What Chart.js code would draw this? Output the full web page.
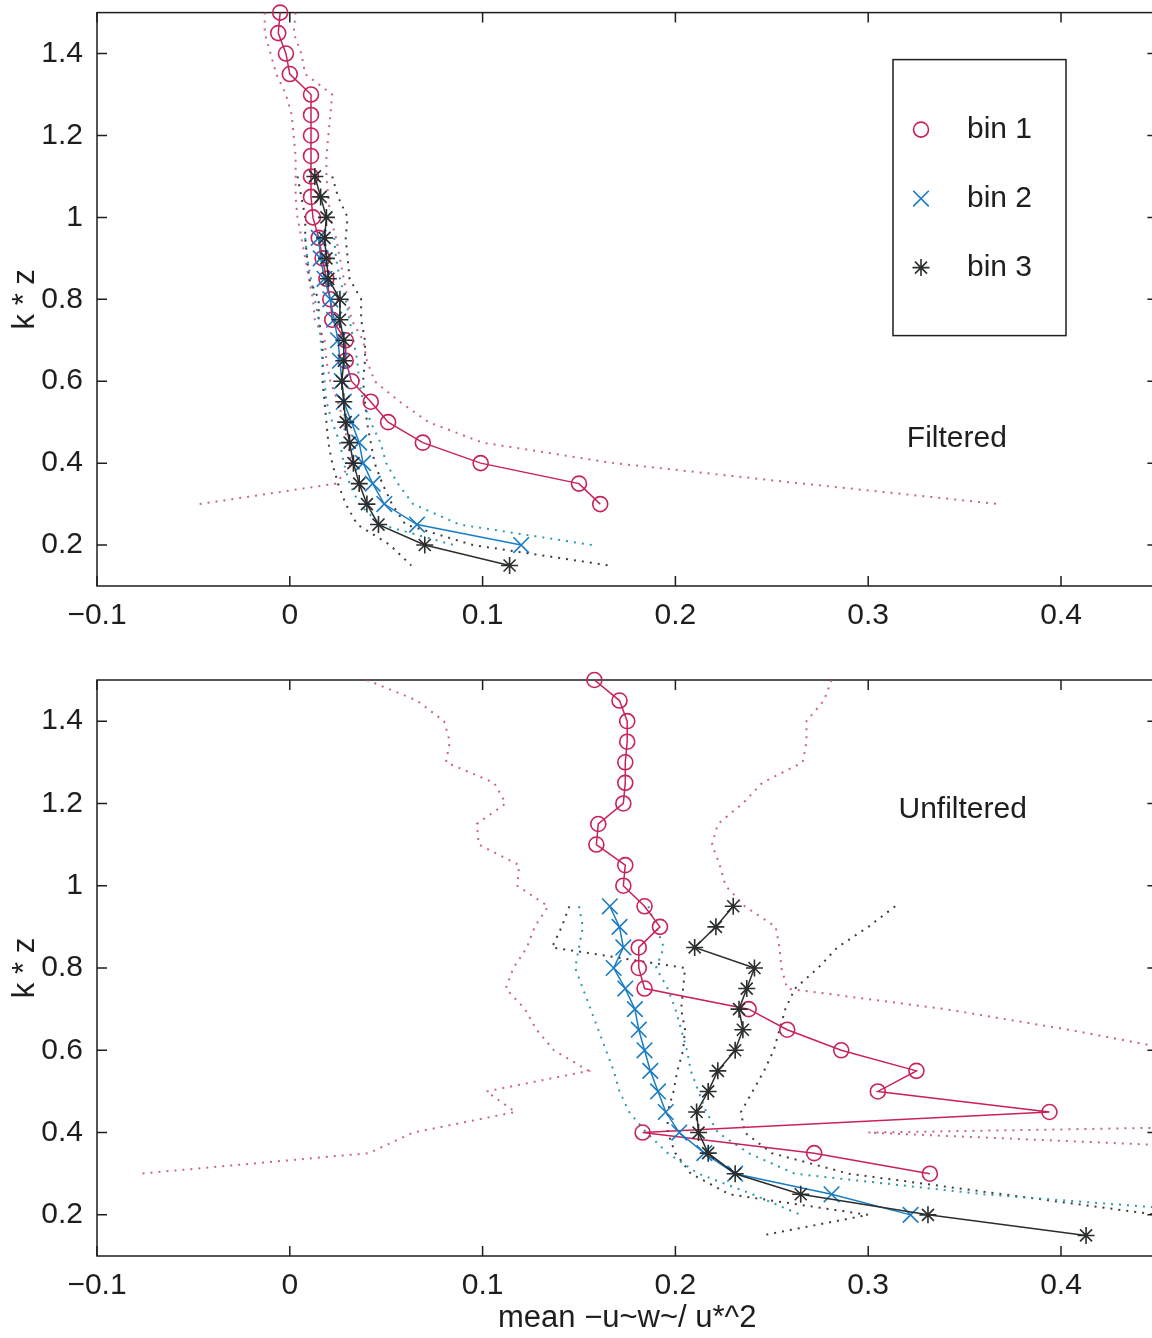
<!DOCTYPE html>
<html>
<head>
<meta charset="utf-8">
<title>k*z profiles</title>
<script src="https://cdn.jsdelivr.net/npm/chart.js@4.4.1/dist/chart.umd.min.js"></script>
<style>
  html, body { margin: 0; padding: 0; background: #fff; overflow: hidden; width: 1152px; height: 1338px; }
  .panel { position: absolute; left: 0; }
  #panel-top { top: 0; }
  #panel-bottom { top: 660px; }
</style>
</head>
<body>
<div class="panel" id="panel-top"><canvas id="chartTop" width="1170" height="650"></canvas></div>
<div class="panel" id="panel-bottom"><canvas id="chartBottom" width="1170" height="678"></canvas></div>

<script>
// axis ticks
const xTicks = [-0.1, 0, 0.1, 0.2, 0.3, 0.4];
const yTicks = [0.2, 0.4, 0.6, 0.8, 1, 1.2, 1.4];
const seriesNames = ['bin 1', 'bin 2', 'bin 3'];

// k*z levels of each bin
const kzBin1 = [1.5, 1.45, 1.4, 1.35, 1.3, 1.25, 1.2, 1.15, 1.1, 1.05, 1.0, 0.95, 0.9, 0.85, 0.8, 0.75, 0.7, 0.65, 0.6, 0.55, 0.5, 0.45, 0.4, 0.35, 0.3];
const kzBin2 = [0.95, 0.9, 0.85, 0.8, 0.75, 0.7, 0.65, 0.6, 0.55, 0.5, 0.45, 0.4, 0.35, 0.3, 0.25, 0.2];
const kzBin3Top = [1.1, 1.05, 1.0, 0.95, 0.9, 0.85, 0.8, 0.75, 0.7, 0.65, 0.6, 0.55, 0.5, 0.45, 0.4, 0.35, 0.3, 0.25, 0.2, 0.15];
const kzBin3Bottom = [0.95, 0.9, 0.85, 0.8, 0.75, 0.7, 0.65, 0.6, 0.55, 0.5, 0.45, 0.4, 0.35, 0.3, 0.25, 0.2, 0.15];

// Filtered
const filtBin1 = [-0.005, -0.006, -0.002, 0.000, 0.011, 0.011, 0.011, 0.011, 0.011, 0.011, 0.012, 0.015, 0.017, 0.019, 0.021, 0.022, 0.029, 0.029, 0.032, 0.042, 0.051, 0.069, 0.099, 0.150, 0.161];
const filtBin1Lo = [-0.013, -0.013, -0.010, -0.007, -0.002, 0.001, 0.002, 0.003, 0.003, 0.003, 0.004, 0.006, 0.008, 0.010, 0.012, 0.013, 0.018, 0.019, 0.021, 0.025, 0.028, 0.030, 0.032, 0.024, -0.047];
const filtBin1Hi = [0.003, 0.002, 0.006, 0.008, 0.022, 0.021, 0.020, 0.019, 0.019, 0.020, 0.021, 0.024, 0.026, 0.028, 0.030, 0.032, 0.038, 0.040, 0.044, 0.057, 0.072, 0.100, 0.168, 0.266, 0.368];
const filtBin2 = [0.015, 0.016, 0.018, 0.021, 0.023, 0.025, 0.026, 0.027, 0.028, 0.032, 0.036, 0.038, 0.043, 0.049, 0.066, 0.120];
const filtBin2Lo = [0.008, 0.009, 0.011, 0.013, 0.015, 0.016, 0.017, 0.018, 0.019, 0.022, 0.026, 0.028, 0.031, 0.036, 0.047, 0.085];
const filtBin2Hi = [0.023, 0.024, 0.026, 0.029, 0.031, 0.033, 0.035, 0.036, 0.038, 0.042, 0.047, 0.050, 0.056, 0.064, 0.088, 0.157];
const filtBin3 = [0.013, 0.016, 0.019, 0.018, 0.019, 0.020, 0.026, 0.026, 0.028, 0.028, 0.027, 0.028, 0.029, 0.031, 0.033, 0.036, 0.040, 0.046, 0.070, 0.114];
const filtBin3Lo = [0.004, 0.006, 0.008, 0.008, 0.009, 0.010, 0.015, 0.015, 0.017, 0.017, 0.017, 0.018, 0.019, 0.020, 0.022, 0.025, 0.029, 0.035, 0.052, 0.063];
const filtBin3Hi = [0.022, 0.025, 0.030, 0.029, 0.030, 0.031, 0.037, 0.037, 0.039, 0.039, 0.038, 0.039, 0.040, 0.042, 0.044, 0.048, 0.053, 0.060, 0.095, 0.166];

// Unfiltered
const unfBin1 = [0.158, 0.171, 0.175, 0.175, 0.174, 0.174, 0.173, 0.160, 0.159, 0.174, 0.173, 0.184, 0.192, 0.181, 0.181, 0.184, 0.238, 0.258, 0.286, 0.325, 0.305, 0.394, 0.183, 0.272, 0.332];
const unfBin1Lo = [0.040, 0.066, 0.080, 0.083, 0.081, 0.106, 0.112, 0.097, 0.098, 0.119, 0.118, 0.134, 0.127, 0.123, 0.116, 0.112, 0.122, 0.128, 0.137, 0.155, 0.102, 0.117, 0.064, 0.041, -0.078];
const unfBin1Hi = [0.281, 0.277, 0.268, 0.268, 0.266, 0.245, 0.235, 0.222, 0.219, 0.223, 0.226, 0.236, 0.252, 0.254, 0.255, 0.258, 0.340, 0.404, 0.460, 0.520, 0.500, 0.950, 0.300, 0.550, 0.600];
const unfBin2 = [0.166, 0.171, 0.173, 0.168, 0.174, 0.179, 0.181, 0.184, 0.187, 0.191, 0.195, 0.202, 0.215, 0.231, 0.281, 0.322];
const unfBin2Lo = [0.150, 0.152, 0.150, 0.148, 0.152, 0.156, 0.160, 0.164, 0.168, 0.171, 0.176, 0.185, 0.196, 0.212, 0.240, 0.265];
const unfBin2Hi = [0.186, 0.190, 0.194, 0.190, 0.196, 0.200, 0.203, 0.206, 0.208, 0.212, 0.216, 0.222, 0.238, 0.262, 0.360, 0.500];
const unfBin3 = [0.230, 0.221, 0.210, 0.241, 0.237, 0.233, 0.235, 0.231, 0.222, 0.217, 0.211, 0.212, 0.217, 0.231, 0.265, 0.331, 0.413];
const unfBin3Lo = [0.145, 0.141, 0.136, 0.205, 0.204, 0.203, 0.205, 0.204, 0.201, 0.199, 0.196, 0.196, 0.200, 0.208, 0.228, 0.300, 0.245];
const unfBin3Hi = [0.314, 0.300, 0.284, 0.274, 0.262, 0.257, 0.254, 0.251, 0.246, 0.240, 0.234, 0.236, 0.250, 0.290, 0.370, 0.450, 0.520];

const COL = ['#c8215c', '#1a7cc3', '#2a2e2e'];
const DOT = ['rgba(196,70,120,0.85)', 'rgba(30,150,170,0.95)', 'rgba(40,40,40,0.9)'];
const FONT = 'Liberation Sans, Arial, Helvetica, sans-serif';
const INK = '#1e1e1e';

const pts = (xs, ys) => xs.map((v, i) => ({ x: v, y: ys[i] }));
const fmt = v => String(Math.round(v * 10) / 10).replace('-', '\u2212');

function mainSet(i, xs, ys) {
  const style = ['circle', 'crossRot', 'star'][i];
  const radius = [7.5, 11, 8.5][i];
  return {
    label: seriesNames[i],
    data: pts(xs, ys),
    borderColor: COL[i],
    borderWidth: 1.5,
    pointStyle: style,
    pointRadius: radius,
    pointBorderColor: COL[i],
    pointBackgroundColor: 'rgba(0,0,0,0)',
    pointBorderWidth: 1.6,
    tension: 0,
    clip: 14
  };
}

function boundSet(i, xs, ys) {
  return {
    data: pts(xs, ys),
    borderColor: DOT[i],
    borderWidth: 2,
    borderDash: [2, 6],
    pointRadius: 0,
    tension: 0,
    clip: 14
  };
}

const frame = {
  id: 'frame',
  beforeDatasetsDraw(chart) {
    const { ctx, chartArea: a, scales } = chart;
    ctx.save();
    ctx.strokeStyle = INK;
    ctx.lineWidth = 1.5;
    ctx.strokeRect(a.left, a.top, a.right - a.left, a.bottom - a.top);
    ctx.beginPath();
    xTicks.forEach(v => {
      const px = scales.x.getPixelForValue(v);
      ctx.moveTo(px, a.bottom); ctx.lineTo(px, a.bottom - 10);
      ctx.moveTo(px, a.top); ctx.lineTo(px, a.top + 10);
    });
    yTicks.forEach(v => {
      const py = scales.y.getPixelForValue(v);
      ctx.moveTo(a.left, py); ctx.lineTo(a.left + 10, py);
      ctx.moveTo(a.right, py); ctx.lineTo(a.right - 10, py);
    });
    ctx.stroke();
    ctx.restore();
  }
};

const note = {
  id: 'note',
  afterDatasetsDraw(chart, args, opts) {
    const { ctx, scales } = chart;
    ctx.save();
    ctx.font = `30px ${FONT}`;
    ctx.fillStyle = INK;
    ctx.textAlign = 'center';
    ctx.textBaseline = 'middle';
    ctx.fillText(opts.text, scales.x.getPixelForValue(opts.x), scales.y.getPixelForValue(opts.y));
    ctx.restore();
  }
};

function drawMarker(ctx, kind, x, y) {
  ctx.beginPath();
  if (kind === 0) {
    ctx.arc(x, y, 7.5, 0, Math.PI * 2);
  } else if (kind === 1) {
    const d = 7.8;
    ctx.moveTo(x - d, y - d); ctx.lineTo(x + d, y + d);
    ctx.moveTo(x - d, y + d); ctx.lineTo(x + d, y - d);
  } else {
    const r = 8.5, d = r * Math.SQRT1_2;
    ctx.moveTo(x - r, y); ctx.lineTo(x + r, y);
    ctx.moveTo(x, y - r); ctx.lineTo(x, y + r);
    ctx.moveTo(x - d, y - d); ctx.lineTo(x + d, y + d);
    ctx.moveTo(x - d, y + d); ctx.lineTo(x + d, y - d);
  }
  ctx.stroke();
}

const legendBox = {
  id: 'legendBox',
  afterDraw(chart) {
    const { ctx, chartArea: a } = chart;
    const left = a.left + 796, top = a.top + 47, w = 173, h = 276;
    ctx.save();
    ctx.fillStyle = '#fff';
    ctx.fillRect(left, top, w, h);
    ctx.strokeStyle = INK;
    ctx.lineWidth = 1.5;
    ctx.strokeRect(left, top, w, h);
    ctx.font = `30px ${FONT}`;
    ctx.textBaseline = 'middle';
    seriesNames.forEach((name, i) => {
      const y = top + 70 + i * 69;
      ctx.strokeStyle = COL[i];
      ctx.lineWidth = 1.6;
      drawMarker(ctx, i, left + 28, y);
      ctx.fillStyle = INK;
      ctx.fillText(name, left + 74, y);
    });
    ctx.restore();
  }
};

function panelOptions(padTop, axisHeight, showXTitle, noteCfg) {
  return {
    responsive: false,
    animation: false,
    events: [],
    layout: { padding: { top: padTop, right: 6, left: 0, bottom: 0 } },
    plugins: {
      legend: { display: false },
      tooltip: { enabled: false },
      note: noteCfg
    },
    scales: {
      x: {
        type: 'linear',
        min: -0.1,
        max: 0.45,
        afterBuildTicks: s => { s.ticks = xTicks.map(v => ({ value: v })); },
        afterFit: s => { s.height = axisHeight; s.paddingLeft = 0; s.paddingRight = 0; },
        grid: { display: false },
        border: { display: false },
        ticks: { font: { family: FONT, size: 30 }, color: INK, padding: 4, maxRotation: 0, autoSkip: false, callback: fmt },
        title: {
          display: showXTitle,
          text: 'mean \u2212u~w~/ u*^2',
          font: { family: FONT, size: 31 },
          color: INK,
          padding: { top: 0, bottom: 1 }
        }
      },
      y: {
        type: 'linear',
        min: 0.1,
        max: 1.5,
        afterBuildTicks: s => { s.ticks = yTicks.map(v => ({ value: v })); },
        afterFit: s => { s.width = 97; s.paddingTop = 0; s.paddingBottom = 0; },
        grid: { display: false },
        border: { display: false },
        ticks: { font: { family: FONT, size: 30 }, color: INK, padding: 6, autoSkip: false, callback: fmt },
        title: {
          display: true,
          text: 'k * z',
          font: { family: FONT, size: 31 },
          color: INK,
          padding: { top: 7, bottom: 0 }
        }
      }
    }
  };
}

new Chart(document.getElementById('chartTop'), {
  type: 'line',
  data: {
    datasets: [
      mainSet(2, filtBin3, kzBin3Top),
      mainSet(1, filtBin2, kzBin2),
      mainSet(0, filtBin1, kzBin1),
      boundSet(0, filtBin1Lo, kzBin1),
      boundSet(0, filtBin1Hi, kzBin1),
      boundSet(1, filtBin2Lo, kzBin2),
      boundSet(1, filtBin2Hi, kzBin2),
      boundSet(2, filtBin3Lo, kzBin3Top),
      boundSet(2, filtBin3Hi, kzBin3Top)
    ]
  },
  options: panelOptions(10, 64, false, { text: 'Filtered', x: 0.346, y: 0.459 }),
  plugins: [frame, note, legendBox]
});

new Chart(document.getElementById('chartBottom'), {
  type: 'line',
  data: {
    datasets: [
      mainSet(2, unfBin3, kzBin3Bottom),
      mainSet(1, unfBin2, kzBin2),
      mainSet(0, unfBin1, kzBin1),
      boundSet(0, unfBin1Lo, kzBin1),
      boundSet(0, unfBin1Hi, kzBin1),
      boundSet(1, unfBin2Lo, kzBin2),
      boundSet(1, unfBin2Hi, kzBin2),
      boundSet(2, unfBin3Lo, kzBin3Bottom),
      boundSet(2, unfBin3Hi, kzBin3Bottom)
    ]
  },
  options: panelOptions(20, 82, true, { text: 'Unfiltered', x: 0.349, y: 1.184 }),
  plugins: [frame, note]
});
</script>
</body>
</html>
